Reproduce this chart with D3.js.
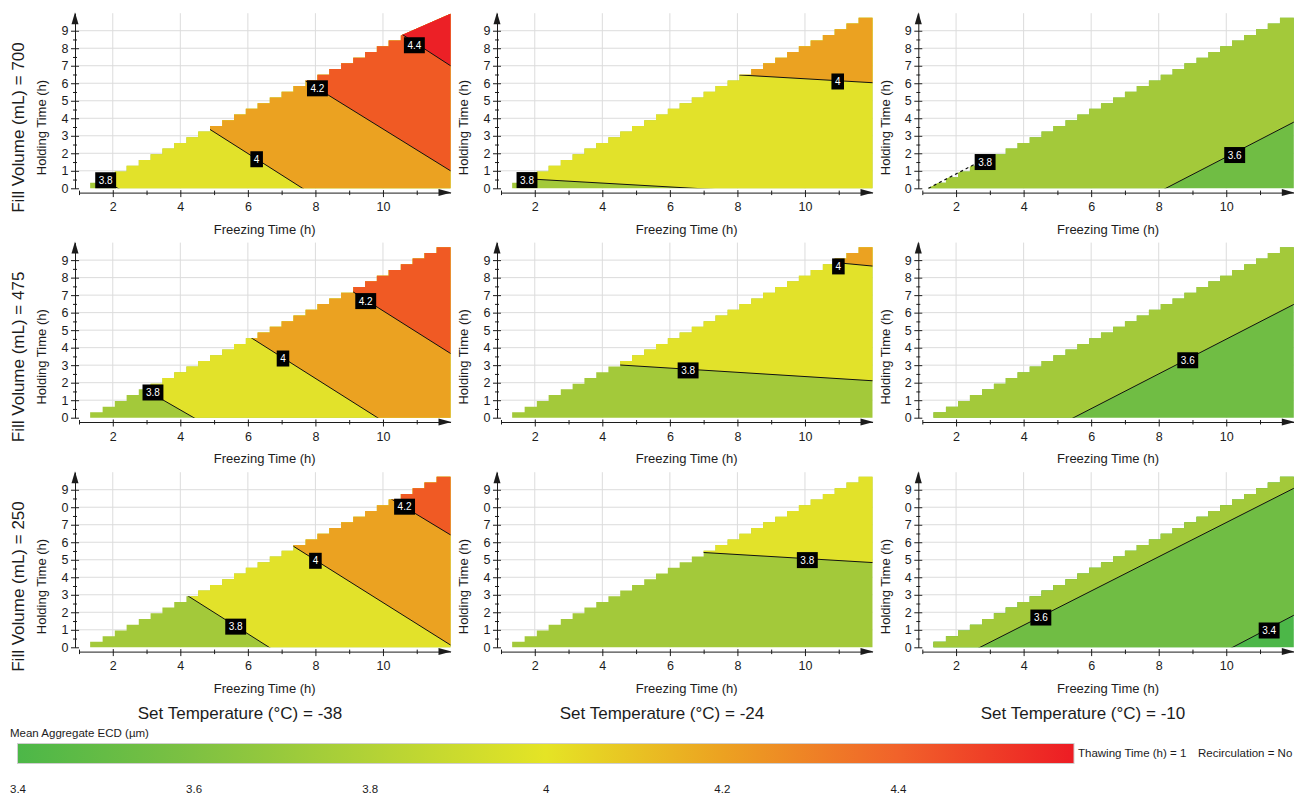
<!DOCTYPE html>
<html>
<head>
<meta charset="utf-8">
<script src="https://cdn.jsdelivr.net/npm/d3@7"></script>
<style>
  html, body { margin: 0; padding: 0; background: #fff; }
  svg { display: block; font-family: "Liberation Sans", Arial, sans-serif; }
</style>
</head>
<body>
<svg id="chart" width="1294" height="794"></svg>
<script>
/* =========================================================
 * ========================================================= */
const fillVolumes = [700, 475, 250];
const setTemps = [-38, -24, -10];

// fill colour of each 0.2-wide band, keyed by its lower level
const bandFloors = [3.2, 3.4, 3.6, 3.8, 4.0, 4.2, 4.4];
const bandColors = ['#4cb748', '#70bd44', '#a3c93a', '#e2e22a', '#eba221', '#f05a24', '#ec2026'];

// feasible region (holding time limit per freezing-time cell)
const stepLeft = [1.33, 1.70, 2.06, 2.41, 2.77, 3.12, 3.47, 3.82, 4.18, 4.53, 4.88, 5.24, 5.59, 5.94, 6.29,
  6.65, 7.00, 7.35, 7.71, 8.06, 8.41, 8.76, 9.12, 9.47, 9.82, 10.17, 10.53, 10.88, 11.23, 11.59];
const stepTop = [0.31, 0.63, 0.96, 1.29, 1.62, 1.94, 2.27, 2.59, 2.92, 3.24, 3.56, 3.89, 4.21, 4.54, 4.86,
  5.19, 5.51, 5.84, 6.16, 6.49, 6.81, 7.14, 7.46, 7.79, 8.11, 8.44, 8.76, 9.09, 9.41, 9.74];
const peak700m38 = [[10.53, 8.72], [12, 9.97]];

const xTicks = [2, 4, 6, 8, 10];
const xMinorTicks = [1, 3, 5, 7, 9, 11];
const yTicks = [0, 1, 2, 3, 4, 5, 6, 7, 8, 9];
const yMinorTicks = [0.5, 1.5, 2.5, 3.5, 4.5, 5.5, 6.5, 7.5, 8.5, 9.5];
const yTickText = ['0', '1', '2', '3', '4', '5', '6', '7', '8', '9'];
const yTickTextLow = ['0', '1', '2', '3', '4', '5', '6', '7', '0', '9'];

// contour lines: level, two points on the line, label spot
const c700m38 = [
  { level: 3.8, a: [1.33, 0.94], b: [2.15, 0], lab: [1.79, 0.46] },
  { level: 4.0, a: [4.905, 3.33], b: [7.62, 0], lab: [6.26, 1.66] },
  { level: 4.2, a: [8.376, 5.33], b: [12, 1.0], lab: [8.06, 5.71] },
  { level: 4.4, a: [10.6, 8.75], b: [12, 7.0], lab: [10.93, 8.17] }
];
const c700m24 = [
  { level: 3.8, a: [2.06, 0.51], b: [6.71, 0], lab: [1.77, 0.47] },
  { level: 4.0, a: [8.09, 6.47], b: [12, 6.03], lab: [10.97, 6.1] }
];
const c700m10 = [
  { level: 3.6, a: [8.21, 0], b: [12.02, 3.8], lab: [10.25, 1.9] },
  { level: 3.8, a: [1.18, 0], b: [2.55, 1.37], lab: [2.86, 1.5], edge: true }
];
const c475m38 = [
  { level: 3.8, a: [3.49, 1.01], b: [4.40, 0], lab: [3.19, 1.44] },
  { level: 4.0, a: [6.16, 4.49], b: [9.84, 0], lab: [7.04, 3.38] },
  { level: 4.2, a: [9.81, 6.34], b: [12, 3.67], lab: [9.49, 6.66] }
];
const c475m24 = [
  { level: 3.8, a: [4.53, 3.01], b: [12, 2.11], lab: [6.54, 2.7] },
  { level: 4.0, a: [11.18, 8.81], b: [12, 8.66], lab: [10.99, 8.64] }
];
const c475m10 = [
  { level: 3.6, a: [5.48, 0], b: [12.02, 6.49], lab: [8.86, 3.28] }
];
const c250m38 = [
  { level: 3.8, a: [4.23, 2.93], b: [6.63, 0], lab: [5.64, 1.18] },
  { level: 4.0, a: [7.39, 5.72], b: [12, 0.13], lab: [8.0, 4.94] },
  { level: 4.2, a: [10.94, 7.66], b: [12, 6.42], lab: [10.64, 8.03] }
];
const c250m24 = [
  { level: 3.8, a: [7.03, 5.41], b: [12, 4.84], lab: [10.07, 4.98] }
];
const c250m10 = [
  { level: 3.4, a: [10.19, 0], b: [12.02, 1.85], lab: [11.27, 0.96] },
  { level: 3.6, a: [2.71, 0], b: [12.02, 9.1], lab: [4.51, 1.7] }
];

const colorbarTicks = [3.4, 3.6, 3.8, 4.0, 4.2, 4.4];
const colorbarStops = [
  [3.4, '#4cb748'], [3.6, '#7ec142'], [3.8, '#b2d236'], [4.0, '#e5e425'],
  [4.2, '#eca221'], [4.4, '#f1622a'], [4.6, '#ed1c24']
];

/* =========================================================
 * Layout
 * ========================================================= */
const colLeft = [79, 501, 922.3];
const plotW = 371.5;
const rowBottom = [188.3, 417.7, 647.3];
const plotH = 175.1;
const colCenter = [240, 662, 1083];
const highCorner = [[12, 10], [12, 10], [1, 10]];
const lowCorner = [[1, 0], [1, 0], [12, 0]];
const panelContours = [
  [c700m38, c700m24, c700m10],
  [c475m38, c475m24, c475m10],
  [c250m38, c250m24, c250m10]
];
const ink = '#1c1c1c';
const svg = d3.select('#chart');

function bandColor(floor) {
  const i = bandFloors.findIndex(f => Math.abs(f - floor) < 1e-6);
  return bandColors[i];
}

function stairPolygon(startX, peak) {
  const pts = [[startX, 0], [startX, stepTop[0]]];
  let prev = stepTop[0];
  for (let i = 1; i < stepLeft.length; i++) {
    if (peak && stepLeft[i] >= peak[0][0] - 1e-6) break;
    pts.push([stepLeft[i], prev], [stepLeft[i], stepTop[i]]);
    prev = stepTop[i];
  }
  if (peak) pts.push([peak[0][0], prev], peak[0], peak[1], [12, 0]);
  else pts.push([12, prev], [12, 0]);
  return pts;
}

// keep the side of line a-b that holds point `keep`
function clipHalf(poly, a, b, keep) {
  const side = p => (b[0] - a[0]) * (p[1] - a[1]) - (b[1] - a[1]) * (p[0] - a[0]);
  const s0 = Math.sign(side(keep));
  const out = [];
  poly.forEach((p, i) => {
    const q = poly[(i + 1) % poly.length];
    const sp = side(p) * s0, sq = side(q) * s0;
    if (sp >= 0) out.push(p);
    if ((sp >= 0) !== (sq >= 0)) {
      const t = sp / (sp - sq);
      out.push([p[0] + t * (q[0] - p[0]), p[1] + t * (q[1] - p[1])]);
    }
  });
  return out;
}

const bigRect = [[0, -1], [13, -1], [13, 11], [0, 11]];

/* =========================================================
 * Panels
 * ========================================================= */
function drawPanel(r, c) {
  const left = colLeft[c], bottom = rowBottom[r];
  const x = d3.scaleLinear().domain([1, 12]).range([left, left + plotW]);
  const y = d3.scaleLinear().domain([0, 10]).range([bottom, bottom - plotH]);
  const line = d3.line().x(d => x(d[0])).y(d => y(d[1]));
  const contours = panelContours[r][c].slice().sort((p, q) => p.level - q.level);
  const g = svg.append('g');

  // grid
  g.append('g').selectAll('line').data(xTicks).enter().append('line')
    .attr('x1', d => x(d)).attr('x2', d => x(d))
    .attr('y1', y(0)).attr('y2', y(10))
    .attr('stroke', '#dcdcdc').attr('stroke-width', 1);
  g.append('g').selectAll('line').data(yTicks.slice(1)).enter().append('line')
    .attr('x1', x(1)).attr('x2', x(12))
    .attr('y1', d => y(d)).attr('y2', d => y(d))
    .attr('stroke', '#dcdcdc').attr('stroke-width', 1);

  // feasible region
  const edge = contours.find(k => k.edge);
  let region = stairPolygon(edge ? 1.0 : stepLeft[0], (r === 0 && c === 0) ? peak700m38 : null);
  if (edge) region = clipHalf(region, edge.a, edge.b, lowCorner[c]);
  const clipId = `clip-${r}-${c}`;
  svg.append('defs').append('clipPath').attr('id', clipId)
    .append('path').attr('d', line(region) + 'Z');

  const fills = g.append('g').attr('clip-path', `url(#${clipId})`);
  fills.append('path').attr('d', line(bigRect) + 'Z')
    .attr('fill', bandColor(contours[0].level - 0.2));
  contours.forEach(k => {
    fills.append('path')
      .attr('d', line(clipHalf(bigRect, k.a, k.b, highCorner[c])) + 'Z')
      .attr('fill', bandColor(k.level));
  });

  // contour lines
  contours.filter(k => !k.edge).forEach(k => {
    const d = [k.b[0] - k.a[0], k.b[1] - k.a[1]];
    fills.append('path')
      .attr('d', line([[k.a[0] - 30 * d[0], k.a[1] - 30 * d[1]], [k.a[0] + 30 * d[0], k.a[1] + 30 * d[1]]]))
      .attr('fill', 'none').attr('stroke', '#111').attr('stroke-width', 1);
  });
  contours.filter(k => k.edge).forEach(k => {
    g.append('path').attr('d', line([k.a, k.b]))
      .attr('fill', 'none').attr('stroke', '#111').attr('stroke-width', 1.2)
      .attr('stroke-dasharray', '3,3');
  });

  // x axis
  const axisY = bottom + 4.3;
  const xa = g.append('g').attr('transform', `translate(0,${axisY})`)
    .call(d3.axisBottom(x).tickValues(xTicks).tickSize(4.5).tickPadding(5.2).tickSizeOuter(0))
    .attr('font-family', null).attr('font-size', 12.5);
  xa.select('.domain').attr('stroke', ink);
  xa.selectAll('.tick line').attr('y1', -2.5).attr('stroke', ink);
  xa.selectAll('.tick text').attr('fill', ink);
  const xm = g.append('g').attr('transform', `translate(0,${axisY})`)
    .call(d3.axisBottom(x).tickValues(xMinorTicks).tickFormat('').tickSize(2.5).tickSizeOuter(0));
  xm.select('.domain').remove();
  xm.selectAll('.tick line').attr('y1', -2).attr('stroke', ink);
  const xe = x(12);
  g.append('path').attr('d', `M${xe + 1},${axisY} L${xe - 12},${axisY - 3.5} L${xe - 12},${axisY + 3.5} Z`)
    .attr('fill', ink);

  // y axis
  const axisX = left - 4;
  const labels = r === 2 ? yTickTextLow : yTickText;
  const ya = g.append('g').attr('transform', `translate(${axisX},0)`)
    .call(d3.axisLeft(y).tickValues(yTicks).tickFormat((d, i) => labels[i])
      .tickSize(4).tickPadding(2.5).tickSizeOuter(0))
    .attr('font-family', null).attr('font-size', 12.5);
  ya.select('.domain').attr('stroke', ink);
  ya.selectAll('.tick line').attr('x1', 4).attr('stroke', ink);
  ya.selectAll('.tick text').attr('fill', ink);
  const ym = g.append('g').attr('transform', `translate(${axisX},0)`)
    .call(d3.axisLeft(y).tickValues(yMinorTicks).tickFormat('').tickSize(2).tickSizeOuter(0));
  ym.select('.domain').remove();
  ym.selectAll('.tick line').attr('x1', 2).attr('stroke', ink);
  const yt = y(10);
  g.append('path').attr('d', `M${axisX},${yt - 1} L${axisX - 3.5},${yt + 11} L${axisX + 3.5},${yt + 11} Z`)
    .attr('fill', ink);

  // axis titles
  g.append('text')
    .attr('x', left + plotW / 2).attr('y', bottom + 45.4)
    .attr('text-anchor', 'middle').attr('font-size', 13).attr('fill', ink)
    .text('Freezing Time (h)');
  g.append('text')
    .attr('transform', `translate(${left - 32.7},${bottom - 60.8}) rotate(-90)`)
    .attr('text-anchor', 'middle').attr('font-size', 13).attr('fill', ink)
    .text('Holding Time (h)');

  // contour labels
  contours.forEach(k => {
    const lg = g.append('g').attr('transform', `translate(${x(k.lab[0])},${y(k.lab[1])})`);
    const rect = lg.append('rect').attr('fill', '#000');
    const t = lg.append('text')
      .attr('text-anchor', 'middle').attr('dy', '0.36em')
      .attr('font-size', 10).attr('fill', '#fff')
      .text(String(+k.level.toFixed(1)));
    const w = t.node().getComputedTextLength() + 7;
    rect.attr('x', -w / 2).attr('y', -8).attr('width', w).attr('height', 16);
  });
}

for (let r = 0; r < 3; r++) {
  for (let c = 0; c < 3; c++) drawPanel(r, c);
}

/* =========================================================
 * Row / column headers
 * ========================================================= */
svg.append('g').selectAll('text').data(fillVolumes).enter().append('text')
  .attr('transform', (d, i) => `translate(24,${rowBottom[i] - 60.8}) rotate(-90)`)
  .attr('text-anchor', 'middle').attr('font-size', 17).attr('fill', ink)
  .text(d => `Fill Volume (mL) = ${d}`);

svg.append('g').selectAll('text').data(setTemps).enter().append('text')
  .attr('x', (d, i) => colCenter[i]).attr('y', 719)
  .attr('text-anchor', 'middle').attr('font-size', 17).attr('fill', ink)
  .text(d => `Set Temperature (°C) = ${d}`);

/* =========================================================
 * Colour legend
 * ========================================================= */
const cb = d3.scaleLinear().domain([3.4, 4.6]).range([17.5, 1074]);
const grad = svg.append('defs').append('linearGradient').attr('id', 'ecd-grad')
  .attr('x1', '0%').attr('x2', '100%').attr('y1', '0%').attr('y2', '0%');
grad.selectAll('stop').data(colorbarStops).enter().append('stop')
  .attr('offset', d => `${(d[0] - 3.4) / 1.2 * 100}%`)
  .attr('stop-color', d => d[1]);

svg.append('text').attr('x', 10).attr('y', 737)
  .attr('font-size', 11.5).attr('fill', ink).text('Mean Aggregate ECD (µm)');

svg.append('rect')
  .attr('x', cb(3.4)).attr('y', 743.5)
  .attr('width', cb(4.6) - cb(3.4)).attr('height', 20)
  .attr('fill', 'url(#ecd-grad)').attr('stroke', '#cfcfcf').attr('stroke-width', 1);

const cbAxis = svg.append('g').attr('transform', 'translate(0,785)')
  .call(d3.axisBottom(cb).tickValues(colorbarTicks).tickFormat(d => String(+d.toFixed(1)))
    .tickSize(0).tickPadding(0))
  .attr('font-family', null).attr('font-size', 11.5);
cbAxis.select('.domain').remove();
cbAxis.selectAll('.tick text').attr('fill', ink);

svg.append('text').attr('x', 1078).attr('y', 757)
  .attr('font-size', 11.5).attr('fill', ink).text('Thawing Time (h) = 1');
svg.append('text').attr('x', 1198).attr('y', 757)
  .attr('font-size', 11.5).attr('fill', ink).text('Recirculation = No');
</script>
</body>
</html>
